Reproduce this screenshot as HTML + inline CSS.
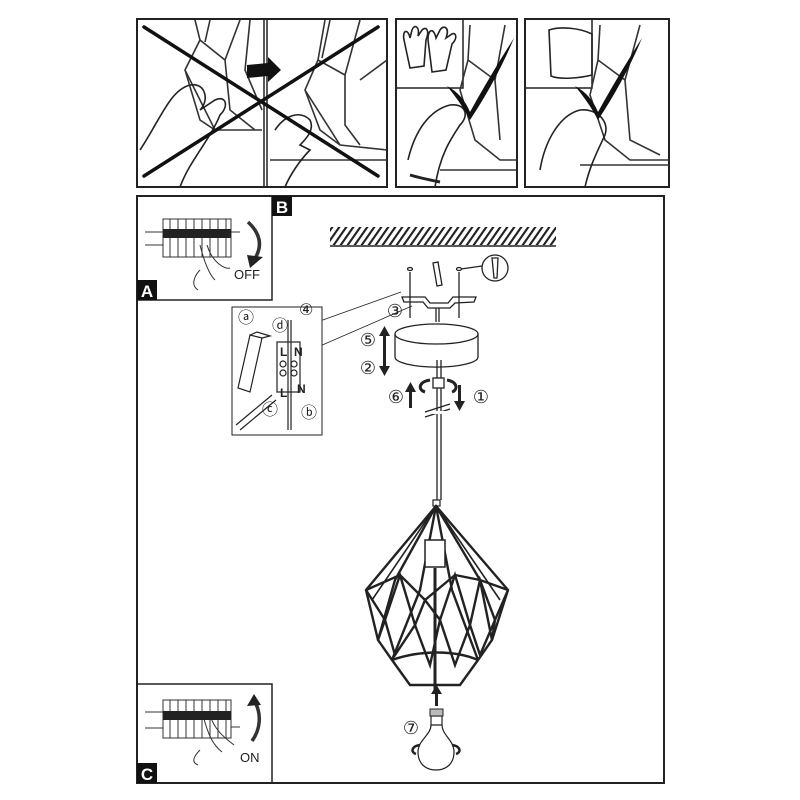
<!DOCTYPE html>
<html><head><meta charset="utf-8"><style>
html,body{margin:0;padding:0;background:#fff}
svg{display:block}
text{font-family:"Liberation Sans","DejaVu Sans",sans-serif}
</style></head><body>
<svg width="800" height="800" viewBox="0 0 800 800" xmlns="http://www.w3.org/2000/svg">
<rect width="800" height="800" fill="#fff"/>
<g fill="none" stroke="#222" stroke-width="2">
<rect x="137" y="19" width="250" height="168"/>
<line x1="264" y1="19" x2="264" y2="187" stroke-width="1.5"/>
<line x1="267" y1="19" x2="267" y2="187" stroke-width="1.5"/>
<rect x="396" y="19" width="121" height="168"/>
<rect x="396" y="19" width="67" height="69" stroke-width="1.5"/>
<rect x="525" y="19" width="144" height="168"/>
<rect x="525" y="19" width="67" height="69" stroke-width="1.5"/>
</g>
<g fill="none" stroke="#333" stroke-width="1.6">
<path d="M195 20 L200 40 L185 70 L200 120 L215 130 M200 40 L225 60 L240 20 M225 60 L230 110 L255 130 M185 70 L215 130 L262 130 M210 20 L205 42 M250 20 L245 70 L262 110"/>
<path d="M325 20 L318 60 L305 90 L320 130 L340 145 L387 150 M318 60 L345 75 L360 20 M345 75 L345 125 L360 145 M360 80 L387 60 M305 90 L340 145 M330 20 L322 58 M270 160 L387 160"/>
<path d="M470 25 L468 60 L460 90 L475 140 L500 160 L517 160 M468 60 L495 80 L505 25 M495 80 L500 140 M440 170 L517 170"/>
<path d="M600 25 L598 60 L590 95 L605 140 L630 160 L669 160 M598 60 L625 80 L640 25 M625 80 L630 140 L660 155 M580 165 L669 165"/>
</g>
<g fill="none" stroke="#222" stroke-width="1.6">
<path d="M140 150 C160 120 170 90 190 85 C205 82 210 100 200 110 L215 100 C225 95 230 105 220 115 C210 140 190 160 180 187"/>
<path d="M275 130 C285 115 300 110 310 120 C315 130 305 140 300 145 L310 150 C300 160 290 175 285 187"/>
<path d="M408 160 C415 130 430 110 450 105 C465 103 470 115 460 125 C450 140 440 155 435 187"/>
<path d="M410 175 C420 178 430 180 440 182" stroke-width="3"/>
<path d="M540 170 C545 140 560 115 580 110 C595 108 610 120 605 135 C598 150 590 165 585 187"/>
<path d="M404 40 C402 30 408 28 410 38 L412 30 C414 24 420 26 418 36 L422 30 C426 26 430 30 426 40 L424 66 L410 68 Z"/>
<path d="M428 40 C428 28 434 28 436 38 L440 30 C444 24 450 28 446 38 L452 34 C456 32 458 38 452 44 L446 70 L432 72 Z"/>
<path d="M549 30 C560 26 580 28 592 34 L592 75 C580 78 560 80 551 76 Z"/>
</g>
<g stroke="#111" stroke-width="3.5" stroke-linecap="round">
<line x1="144" y1="27" x2="378" y2="176"/>
<line x1="144" y1="176" x2="378" y2="27"/>
</g>
<path d="M247 65 L268 63 L268 57 L281 70 L268 82 L268 76 L247 78 Z" fill="#111"/>
<path d="M447 86 C458 92 465 100 470 112 C485 85 500 60 514 38 C505 60 490 90 470 120 C462 105 455 96 447 86 Z" fill="#111"/>
<path d="M575 86 C586 92 593 100 598 112 C613 85 628 60 642 38 C633 60 618 90 598 120 C590 105 583 96 575 86 Z" fill="#111"/>

<rect x="137" y="196" width="527" height="587" fill="none" stroke="#222" stroke-width="2"/>
<rect x="137" y="196" width="135" height="104" fill="none" stroke="#222" stroke-width="1.5"/>
<rect x="272" y="196" width="20" height="20" fill="#111"/>
<text x="282" y="213" font-size="17" font-weight="bold" fill="#fff" text-anchor="middle">B</text>
<rect x="137" y="280" width="20" height="20" fill="#111"/>
<text x="147" y="297" font-size="17" font-weight="bold" fill="#fff" text-anchor="middle">A</text>
<rect x="137" y="684" width="135" height="99" fill="none" stroke="#222" stroke-width="1.5"/>
<rect x="137" y="763" width="20" height="20" fill="#111"/>
<text x="147" y="780" font-size="17" font-weight="bold" fill="#fff" text-anchor="middle">C</text>

<g stroke="#333" fill="none" stroke-width="1">
<rect x="163" y="219" width="68" height="38"/>
<path d="M170 219 V257 M178 219 V257 M186 219 V257 M194 219 V257 M202 219 V257 M210 219 V257 M218 219 V257 M226 219 V257"/>
<line x1="145" y1="232" x2="163" y2="232"/><line x1="145" y1="245" x2="163" y2="245"/>
<line x1="231" y1="232" x2="240" y2="232"/>
<path d="M200 245 C205 265 210 275 215 280 M207 245 C212 262 225 270 230 268 M200 270 C195 275 190 285 198 290"/>
<path d="M248 222 C262 235 262 248 254 260" stroke-width="3.5"/>
</g>
<rect x="163" y="229" width="68" height="9" fill="#222"/>
<path d="M247 255 L263 257 L250 268 Z" fill="#222"/>
<text x="234" y="279" font-size="13" fill="#222">OFF</text>
<g stroke="#333" fill="none" stroke-width="1">
<rect x="163" y="700" width="68" height="38"/>
<path d="M170 700 V738 M178 700 V738 M186 700 V738 M194 700 V738 M202 700 V738 M210 700 V738 M218 700 V738 M226 700 V738"/>
<line x1="145" y1="712" x2="163" y2="712"/><line x1="145" y1="728" x2="163" y2="728"/>
<line x1="231" y1="727" x2="240" y2="727"/>
<path d="M203 715 C208 735 213 745 222 752 M210 715 C215 732 228 740 234 745 M200 750 C195 755 190 762 198 765"/>
<path d="M252 741 C260 730 262 715 255 702" stroke-width="3.5"/>
</g>
<rect x="163" y="711" width="68" height="9" fill="#222"/>
<path d="M247 706 L254 694 L261 705 Z" fill="#222"/>
<text x="240" y="762" font-size="13" fill="#222">ON</text>

<defs><pattern id="h" width="7" height="20" patternUnits="userSpaceOnUse" patternTransform="skewX(-35)"><rect width="2.6" height="20" fill="#222"/></pattern></defs>
<rect x="330" y="227" width="226" height="18" fill="url(#h)"/>
<line x1="330" y1="246" x2="556" y2="246" stroke="#222" stroke-width="1.5"/>

<g stroke="#222" fill="none" stroke-width="1.3">
<ellipse cx="410" cy="269" rx="2.5" ry="1.5"/><line x1="410" y1="272" x2="410" y2="318"/>
<ellipse cx="459" cy="269" rx="2.5" ry="1.5"/><line x1="459" y1="272" x2="459" y2="318"/>
<path d="M433 263 L438 262 L442 285 L437 286 Z"/>
<circle cx="495" cy="268" r="13"/><path d="M492 258 L498 258 L497 278 L494 278 Z"/>
<line x1="461" y1="269" x2="482" y2="266"/>
<path d="M402 297 L425 297 L430 303 L448 303 L453 297 L476 297 L474 302 L455 303 L450 308 L428 308 L423 302 L404 302 Z"/>
<line x1="439" y1="308" x2="439" y2="322"/><line x1="436" y1="308" x2="436" y2="322"/>
<path d="M395 334 L395 357 A41 10 0 0 0 478 357 L478 334"/>
<ellipse cx="436.5" cy="334" rx="41.5" ry="10" fill="#fff"/>
<line x1="437" y1="360" x2="437" y2="500"/><line x1="441" y1="360" x2="441" y2="500"/>
<rect x="433" y="378" width="11" height="10" fill="#fff"/>
<line x1="425" y1="412" x2="450" y2="404"/><line x1="425" y1="417" x2="450" y2="409"/>
<line x1="401" y1="292" x2="320" y2="321" stroke-width="0.8"/>
<line x1="412" y1="306" x2="320" y2="346" stroke-width="0.8"/>
</g>
<rect x="432" y="411" width="14" height="3" fill="#fff"/>
<g stroke="#222" stroke-width="3" fill="none">
<path d="M430 380 C418 382 418 390 425 392"/><path d="M447 380 C458 382 458 390 452 392"/>
</g>
<g fill="#222">
<rect x="383" y="334" width="3" height="18"/><path d="M379 336 L384.5 326 L390 336 Z"/>
<rect x="383" y="352" width="3" height="16"/><path d="M379 366 L384.5 376 L390 366 Z"/>
<rect x="409" y="390" width="3" height="18"/><path d="M405 392 L410.5 382 L416 392 Z"/>
<rect x="458" y="385" width="3" height="18"/><path d="M454 401 L459.5 411 L465 401 Z"/>
<rect x="435" y="692" width="3" height="14"/><path d="M431 694 L436.5 685 L442 694 Z"/>
</g>
<g font-size="18" fill="#222" text-anchor="middle">
<text x="368" y="346">⑤</text><text x="368" y="374">②</text>
<text x="396" y="403">⑥</text><text x="481" y="403">①</text>
<text x="395" y="317">③</text><text x="411" y="734">⑦</text>
</g>

<rect x="232" y="307" width="90" height="128" fill="#fff" stroke="#222" stroke-width="1"/>
<g stroke="#222" fill="none" stroke-width="1.2">
<path d="M238 388 L250 335 L262 338 L250 392 Z M250 335 L257 332 L270 336 L262 338"/>
<rect x="277" y="342" width="23" height="50"/>
<line x1="288" y1="320" x2="288" y2="430"/><line x1="291" y1="320" x2="291" y2="430"/>
<line x1="236" y1="425" x2="272" y2="395"/><line x1="240" y1="430" x2="276" y2="400"/>
<circle cx="283" cy="364" r="3"/><circle cx="294" cy="364" r="3"/><circle cx="283" cy="373" r="3"/><circle cx="294" cy="373" r="3"/>
</g>
<g font-size="16" fill="#222">
<text x="238" y="323">ⓐ</text><text x="272" y="331">ⓓ</text><text x="299" y="315">④</text>
<text x="262" y="415">ⓒ</text><text x="301" y="418">ⓑ</text>
<text x="280" y="356" font-size="12" font-weight="bold">L</text><text x="294" y="356" font-size="12" font-weight="bold">N</text>
<text x="280" y="397" font-size="12" font-weight="bold">L</text><text x="297" y="393" font-size="12" font-weight="bold">N</text>
</g>

<g stroke="#222" fill="none" stroke-width="2.4">
<rect x="433" y="500" width="7" height="6" stroke-width="1.2"/>
<path d="M436 506 L366 590 L378 640 L392 660 L410 685 L460 685 L478 660 L492 640 L508 590 Z"/>
<path d="M436 506 L395 580 L378 640 M436 506 L420 590 L392 660 M436 506 L452 590 L478 660 M436 506 L480 580 L492 640"/>
<path d="M366 590 L400 575 L425 600 L455 575 L480 580 L508 590"/>
<path d="M366 590 L385 620 L400 575 L415 625 L425 600 L440 620 L455 575 L470 625 L480 580 L495 620 L508 590"/>
<path d="M378 640 L385 620 L395 655 L415 625 L430 665 L440 620 L455 665 L470 625 L480 655 L495 620 L492 640"/>
<path d="M392 660 C420 650 455 650 478 660"/>
<path d="M436 506 L372 600 M436 506 L500 600" stroke-width="1.6"/>
</g>
<rect x="425" y="540" width="20" height="27" fill="#fff" stroke="#222" stroke-width="1.5"/>
<line x1="435" y1="568" x2="435" y2="690" stroke="#222" stroke-width="3"/>
<g stroke="#222" fill="none" stroke-width="1.2">
<path d="M431 716 L442 716 L442 725 L431 725 Z"/>
<path d="M431 725 C431 735 418 740 418 752 C418 764 426 770 436 770 C446 770 454 764 454 752 C454 740 442 735 442 725"/>
</g>
<path d="M430 709 L443 709 L443 716 L430 716 Z" fill="#bbb" stroke="#222" stroke-width="1"/>
<g stroke="#222" stroke-width="2.5" fill="none"><path d="M420 745 C412 746 410 752 416 754"/><path d="M452 745 C460 746 462 752 456 754"/></g>
</svg>
</body></html>
